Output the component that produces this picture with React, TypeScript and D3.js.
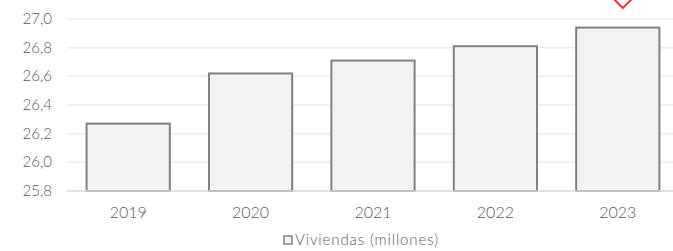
import * as d3 from 'd3';
import { useEffect, useRef } from 'react';

const years = ['2019', '2020', '2021', '2022', '2023'];
const viviendas = [26.27, 26.62, 26.71, 26.81, 26.94];
const yTicks = [25.8, 26.0, 26.2, 26.4, 26.6, 26.8, 27.0];
const legendLabel = 'Viviendas (millones)';
const markerYear = '2023';

const App = () => {
  const ref = useRef<SVGSVGElement | null>(null);

  useEffect(() => {
    const svg = d3.select(ref.current);
    svg.selectAll('*').remove();

    const font = 'Lato, "DejaVu Sans", sans-serif';
    const x = d3.scaleBand<string>().domain(years).range([67, 679]).paddingInner(0.32).paddingOuter(0.16);
    const y = d3.scaleLinear().domain([25.8, 27.0]).range([191, 19]);

    // grid
    svg
      .append('g')
      .selectAll('line')
      .data(yTicks.slice(1))
      .join('line')
      .attr('x1', 67)
      .attr('x2', 673)
      .attr('y1', (d) => y(d))
      .attr('y2', (d) => y(d))
      .attr('stroke', '#ececec')
      .attr('stroke-width', 1.5);

    // y labels
    svg
      .append('g')
      .selectAll('text')
      .data(yTicks)
      .join('text')
      .attr('x', 52)
      .attr('y', (d) => y(d) + 5)
      .attr('text-anchor', 'end')
      .attr('font-family', font)
      .attr('font-weight', 300)
      .attr('font-size', 15)
      .attr('fill', '#595959')
      .text((d) => d.toFixed(1).replace('.', ','));

    // bars
    svg
      .append('g')
      .selectAll('rect')
      .data(viviendas)
      .join('rect')
      .attr('x', (_, i) => x(years[i])!)
      .attr('y', (d) => y(d))
      .attr('width', x.bandwidth())
      .attr('height', (d) => y(25.8) - y(d))
      .attr('fill', '#f2f2f2')
      .attr('stroke', '#808080')
      .attr('stroke-width', 2);

    // baseline
    svg
      .append('line')
      .attr('x1', 67)
      .attr('x2', 673)
      .attr('y1', y(25.8))
      .attr('y2', y(25.8))
      .attr('stroke', '#d9d9d9')
      .attr('stroke-width', 1.5);

    // x labels
    svg
      .append('g')
      .selectAll('text')
      .data(years)
      .join('text')
      .attr('x', (d) => x(d)! + x.bandwidth() / 2)
      .attr('y', 218)
      .attr('text-anchor', 'middle')
      .attr('font-family', font)
      .attr('font-weight', 300)
      .attr('font-size', 16)
      .attr('fill', '#595959')
      .text((d) => d);

    // red marker (partially out of view)
    const mx = x(markerYear)! + x.bandwidth() / 2 + 5;
    svg
      .append('path')
      .attr('d', `M${mx - 11},-3 L${mx},8 L${mx + 11},-3 L${mx},-14 Z`)
      .attr('fill', '#ffffff')
      .attr('stroke', '#e8363a')
      .attr('stroke-width', 2);

    // legend
    const lg = svg.append('g');
    lg.append('rect')
      .attr('x', 284)
      .attr('y', 236)
      .attr('width', 8)
      .attr('height', 8)
      .attr('fill', '#f2f2f2')
      .attr('stroke', '#808080')
      .attr('stroke-width', 1.5);
    lg.append('text')
      .attr('x', 295)
      .attr('y', 245)
      .attr('font-family', font)
      .attr('font-weight', 300)
      .attr('font-size', 15)
      .attr('textLength', 143)
      .attr('fill', '#595959')
      .text(legendLabel);
  }, []);

  return <svg ref={ref} width={673} height={251} style={{ position: 'absolute', left: 0, top: 0 }}></svg>;
};

export default App;
